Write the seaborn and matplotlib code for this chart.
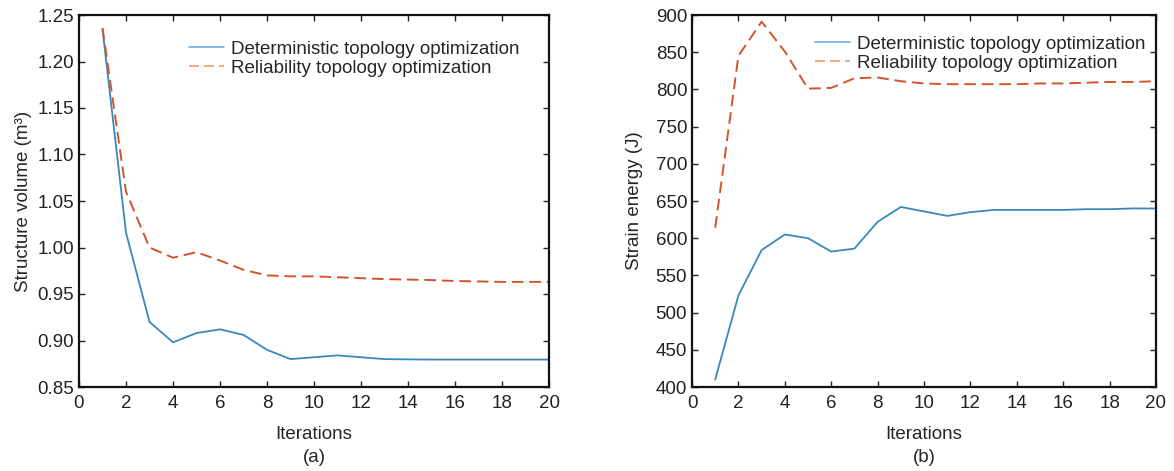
import numpy as np
import pandas as pd
import matplotlib
matplotlib.use("Agg")
import matplotlib.pyplot as plt
from matplotlib.lines import Line2D
import seaborn as sns

# iteration numbers
iterations = list(range(1, 21))

# (a) structure volume, m^3
vol_deterministic = [1.235, 1.016, 0.920, 0.898, 0.908, 0.912, 0.906, 0.890, 0.880, 0.882,
                     0.884, 0.882, 0.880, 0.8797, 0.8795, 0.8795, 0.8795, 0.8795, 0.8795, 0.8795]
vol_reliability = [1.236, 1.060, 1.000, 0.989, 0.995, 0.986, 0.976, 0.970, 0.969, 0.969,
                   0.968, 0.967, 0.966, 0.9655, 0.965, 0.964, 0.9635, 0.963, 0.963, 0.963]

# (b) strain energy, J
energy_deterministic = [410, 523, 584, 605, 600, 582, 586, 622, 642, 636,
                        630, 635, 638, 638, 638, 638, 639, 639, 640, 640]
energy_reliability = [614, 845, 891, 851, 801, 802, 815, 816, 811, 808,
                      807, 807, 807, 807, 808, 808, 809, 810, 810, 811]

series_names = ["Deterministic topology optimization", "Reliability topology optimization"]

sns.set_theme(style="ticks")
plt.rcParams["font.family"] = ["Liberation Sans", "DejaVu Sans"]
plt.rcParams["font.size"] = 13.5

BLUE = "#3a88bb"
RED = "#d4532e"

W, H = 1174, 471
fig = plt.figure(figsize=(W / 100, H / 100), dpi=100)
ax_a = fig.add_axes([79 / W, 1 - 387 / H, (549 - 79) / W, (387 - 15) / H])
ax_b = fig.add_axes([692 / W, 1 - 387 / H, (1156 - 692) / W, (387 - 15) / H])


def draw(ax, det, rel, ylim, yticks, ylabel, fmt, tag, legend_xy, ylabelpad):
	df = pd.DataFrame({"it": iterations, "det": det, "rel": rel})
	sns.lineplot(data=df, x="it", y="det", ax=ax, color=BLUE, linewidth=1.3)
	sns.lineplot(data=df, x="it", y="rel", ax=ax, color=RED, linewidth=1.4,
				 linestyle=(0, (6, 3)))
	ax.set_xlim(0, 20)
	ax.set_ylim(*ylim)
	ax.set_xticks(np.arange(0, 21, 2))
	ax.set_yticks(yticks)
	ax.set_yticklabels([fmt.format(v) for v in yticks])
	ax.tick_params(direction="in", top=True, right=True, length=4, width=1,
				   labelsize=13.5, colors="#222222")
	ax.tick_params(axis="x", pad=5.5)
	ax.tick_params(axis="y", pad=3.5)
	for s in ax.spines.values():
		s.set_linewidth(1.6)
		s.set_color("#111111")
	ax.set_xlabel("Iterations", fontsize=13.5, labelpad=10)
	ax.set_ylabel(ylabel, fontsize=13.5, labelpad=ylabelpad)
	bb = ax.get_position()
	fig.text((bb.x0 + bb.x1) / 2, 1 - 458 / H, tag, ha="center", va="center", fontsize=13.5)
	handles = [Line2D([], [], color="#6aaee0", lw=1.2),
			   Line2D([], [], color="#ef9a6a", lw=1.2, linestyle=(0, (6, 3)))]
	ax.legend(handles, series_names, loc="upper left", bbox_to_anchor=legend_xy,
			  frameon=False, fontsize=13.5, handlelength=1.87, handletextpad=0.37,
			  labelspacing=0.1, borderpad=0.2)


draw(ax_a, vol_deterministic, vol_reliability, (0.85, 1.25),
	 np.round(np.arange(0.85, 1.2501, 0.05), 2), "Structure volume (m\u00b3)", "{:.2f}", "(a)",
	 (0.206, 0.967), 4)
draw(ax_b, energy_deterministic, energy_reliability, (400, 900),
	 np.arange(400, 901, 50), "Strain energy (J)", "{:.0f}", "(b)", (0.237, 0.98), 9)

fig.savefig("out.png", dpi=100)
